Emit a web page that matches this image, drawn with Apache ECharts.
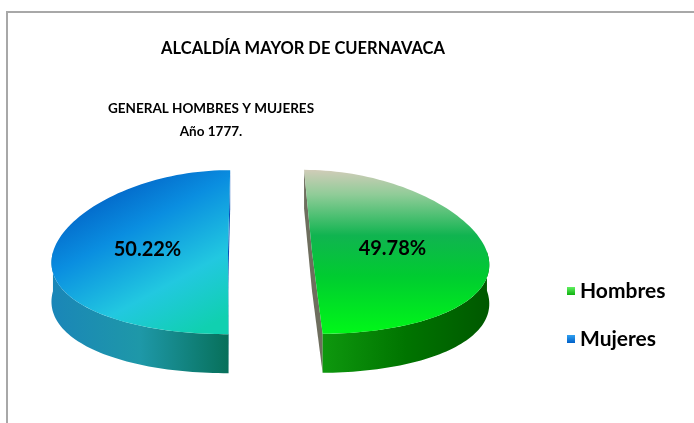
<!DOCTYPE html>
<html>
<head>
<meta charset="utf-8">
<script src="https://cdn.jsdelivr.net/npm/echarts@6.0.0/dist/echarts.min.js"></script>
<style>
    body { margin: 0; background: #fff; }
    #chart { width: 694px; height: 423px; }
</style>
</head>
<body>
<div id="chart"></div>
<script>
    // datos
    const categories = ['Hombres', 'Mujeres'];
    const values = [49.78, 50.22];
    const labels = ['49.78%', '50.22%'];

    // geometria de la torta 3D
    const CX = 270, CY = 252, A = 175, B = 82, DEPTH = 39, EXPLODE = 42;
    const P = 0.12, S = 0.035;

    const topColors = [
        [[0, '#d0ccb8'], [0.15, '#90cc98'], [0.4, '#10b450'], [0.65, '#00cc30'], [1, '#00f818']],
        [[0, '#0058c0'], [0.35, '#0a8ee0'], [0.7, '#22c8e0'], [1, '#10d0b0']]
    ];
    const wallColors = [
        [[0, '#0e980e'], [0.5, '#007400'], [1, '#005800']],
        [[0, '#1a86b8'], [0.5, '#1e98a8'], [1, '#07705a']]
    ];
    const edgeColors = ['#6e6e5e', '#0b4fb8'];
    const legendColors = [['#60f060', '#10b010'], ['#30a0f0', '#0060c8']];

    function grad(stops, x, y, x2, y2) {
        return {
            type: 'linear', x: x, y: y, x2: x2, y2: y2,
            colorStops: stops.map(s => ({offset: s[0], color: s[1]}))
        };
    }

    function proj(p) {
        return [CX + p[0] * (1 + P * p[1] / B) + S * p[1], CY + p[1]];
    }

    function down(q) {
        return [q[0], q[1] + DEPTH];
    }

    function makeRender(i) {
        return function (params, api) {
            const total = values.reduce((s, v) => s + v, 0);
            let before = 0;
            for (let k = 0; k < i; k++) before += values[k];
            const a0 = before / total * 2 * Math.PI;
            const a1 = (before + api.value(0)) / total * 2 * Math.PI;
            const mid = (a0 + a1) / 2;
            const ox = EXPLODE * Math.sin(mid);
            const oy = -EXPLODE * Math.cos(mid) * B / A;
            const rim = t => proj([ox + A * Math.sin(t), oy - B * Math.cos(t)]);
            const c = proj([ox, oy]);

            const children = [];

            // caras del corte
            [a0, a1].forEach(t => {
                const r = rim(t);
                children.push({
                    type: 'polygon',
                    shape: {points: [c, r, down(r), down(c)]},
                    style: {fill: edgeColors[i]}
                });
            });

            // pared frontal
            const w0 = Math.max(a0, Math.PI / 2), w1 = Math.min(a1, Math.PI * 1.5);
            if (w1 > w0) {
                const top = [];
                for (let k = 0; k <= 60; k++) top.push(rim(w0 + (w1 - w0) * k / 60));
                const bottom = top.map(down).reverse();
                children.push({
                    type: 'polygon',
                    shape: {points: top.concat(bottom)},
                    style: {fill: grad(wallColors[i], 0, 0, 1, 0)}
                });
            }

            // cara superior
            const face = [c];
            for (let k = 0; k <= 90; k++) face.push(rim(a0 + (a1 - a0) * k / 90));
            children.push({
                type: 'polygon',
                shape: {points: face},
                style: {fill: i === 0 ? grad(topColors[i], 0, 0, 0, 1) : grad(topColors[i], 0.3, 0, 0.8, 1)}
            });

            // etiqueta
            const lp = proj([ox + 0.46 * A * Math.sin(mid), oy - 0.46 * B * Math.cos(mid)]);
            children.push({
                type: 'text',
                x: lp[0],
                y: lp[1] - 3,
                style: {
                    text: labels[i],
                    align: 'center',
                    verticalAlign: 'middle',
                    font: 'bold 20px Lato',
                    fill: '#000'
                }
            });

            return {type: 'group', children: children};
        };
    }

    const chart = echarts.init(document.getElementById('chart'));
    chart.setOption({
        animation: false,
        title: [
            {
                text: 'ALCALDÍA MAYOR DE CUERNAVACA',
                left: 303,
                top: 39,
                textAlign: 'center',
                padding: 0,
                textStyle: {fontFamily: 'Lato', fontWeight: 'bold', fontSize: 16.5, lineHeight: 20, color: '#000'}
            },
            {
                text: 'GENERAL HOMBRES Y MUJERES\nAño 1777.',
                left: 211,
                top: 97,
                textAlign: 'center',
                padding: 0,
                textStyle: {fontFamily: 'Lato', fontWeight: 'bold', fontSize: 13.5, lineHeight: 23, color: '#000'}
            }
        ],
        legend: {
            orient: 'vertical',
            left: 562,
            top: 275,
            itemWidth: 8,
            itemHeight: 8,
            itemGap: 26,
            icon: 'rect',
            textStyle: {fontFamily: 'Lato', fontWeight: 'bold', fontSize: 21, lineHeight: 22, color: '#000'},
            data: categories
        },
        graphic: [
            {
                type: 'rect',
                z: -10,
                shape: {x: 7, y: 12, width: 720, height: 440},
                style: {fill: 'none', stroke: '#a8a8a8', lineWidth: 2}
            }
        ],
        series: categories.map((name, i) => ({
            type: 'custom',
            name: name,
            coordinateSystem: 'none',
            itemStyle: {color: grad([[0, legendColors[i][0]], [1, legendColors[i][1]]], 0, 0, 0, 1)},
            renderItem: makeRender(i),
            data: [values[i]]
        }))
    });
</script>
</body>
</html>
